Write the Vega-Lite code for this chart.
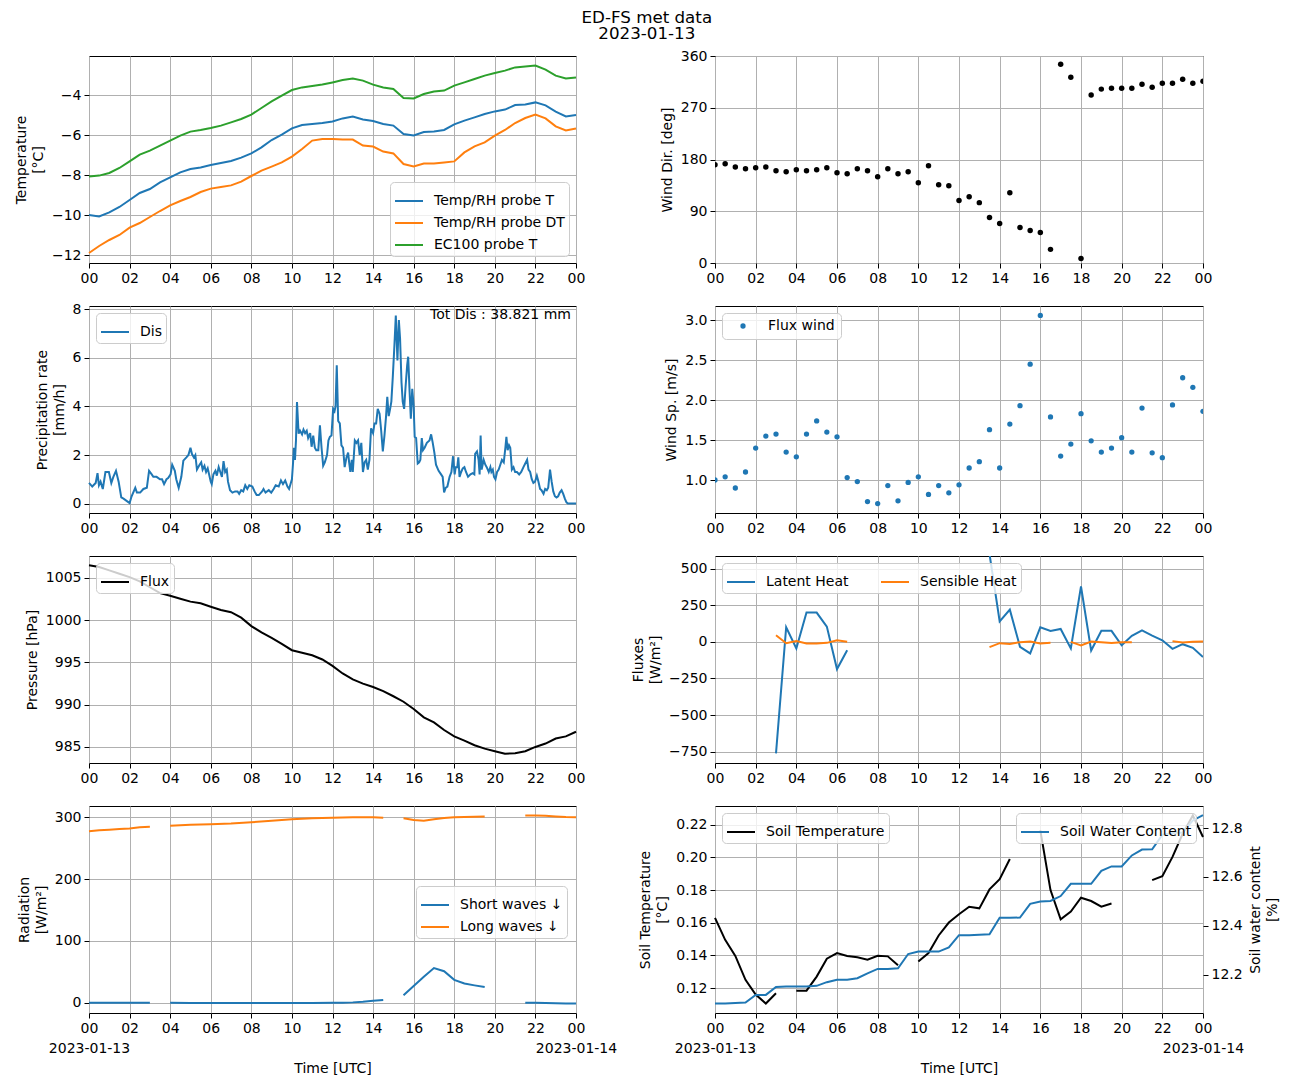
{
  "$schema": "https://vega.github.io/schema/vega-lite/v6.json",
  "title": {"text": ["ED-FS met data", "2023-01-13"], "fontSize": 16.7, "fontWeight": "normal", "font": "DejaVu Sans", "lineHeight": 16, "anchor": "middle", "offset": 6, "color": "black"},
  "padding": {"left": 13, "top": 9, "right": 5, "bottom": 5},
  "background": "white",
  "columns": 2,
  "bounds": "flush",
  "spacing": {"row": 43, "column": 139},
  "resolve": {"scale": {"color": "independent"}, "legend": {"color": "independent"}},
  "datasets": {
    "temp": [
      {"h":0,"t":-10.0,"dt":-11.9,"ec":-8.08},{"h":0.5,"t":-10.07,"dt":-11.55,"ec":-8.03},{"h":1,"t":-9.87,"dt":-11.25,"ec":-7.9},
      {"h":1.5,"t":-9.6,"dt":-11.0,"ec":-7.65},{"h":2,"t":-9.25,"dt":-10.63,"ec":-7.32},{"h":2.5,"t":-8.9,"dt":-10.4,"ec":-6.98},
      {"h":3,"t":-8.7,"dt":-10.1,"ec":-6.78},{"h":3.5,"t":-8.37,"dt":-9.8,"ec":-6.53},{"h":4,"t":-8.12,"dt":-9.52,"ec":-6.28},
      {"h":4.5,"t":-7.87,"dt":-9.3,"ec":-6.03},{"h":5,"t":-7.7,"dt":-9.1,"ec":-5.83},{"h":5.5,"t":-7.62,"dt":-8.85,"ec":-5.75},
      {"h":6,"t":-7.5,"dt":-8.68,"ec":-5.65},{"h":6.5,"t":-7.4,"dt":-8.6,"ec":-5.53},{"h":7,"t":-7.3,"dt":-8.52,"ec":-5.37},
      {"h":7.5,"t":-7.13,"dt":-8.33,"ec":-5.2},{"h":8,"t":-6.92,"dt":-8.05,"ec":-4.98},{"h":8.5,"t":-6.62,"dt":-7.78,"ec":-4.65},
      {"h":9,"t":-6.25,"dt":-7.58,"ec":-4.32},{"h":9.5,"t":-5.98,"dt":-7.37,"ec":-4.03},{"h":10,"t":-5.67,"dt":-7.08,"ec":-3.75},
      {"h":10.5,"t":-5.5,"dt":-6.7,"ec":-3.62},{"h":11,"t":-5.45,"dt":-6.28,"ec":-3.55},{"h":11.5,"t":-5.4,"dt":-6.2,"ec":-3.48},
      {"h":12,"t":-5.32,"dt":-6.2,"ec":-3.37},{"h":12.5,"t":-5.17,"dt":-6.23,"ec":-3.25},{"h":13,"t":-5.08,"dt":-6.23,"ec":-3.17},
      {"h":13.5,"t":-5.22,"dt":-6.53,"ec":-3.28},{"h":14,"t":-5.3,"dt":-6.58,"ec":-3.48},{"h":14.5,"t":-5.45,"dt":-6.83,"ec":-3.62},
      {"h":15,"t":-5.53,"dt":-6.92,"ec":-3.7},{"h":15.5,"t":-5.95,"dt":-7.45,"ec":-4.15},{"h":16,"t":-6.02,"dt":-7.57,"ec":-4.17},
      {"h":16.5,"t":-5.85,"dt":-7.43,"ec":-3.95},{"h":17,"t":-5.82,"dt":-7.42,"ec":-3.83},{"h":17.5,"t":-5.75,"dt":-7.37,"ec":-3.78},
      {"h":18,"t":-5.47,"dt":-7.32,"ec":-3.53},{"h":18.5,"t":-5.28,"dt":-6.87,"ec":-3.37},{"h":19,"t":-5.12,"dt":-6.57,"ec":-3.2},
      {"h":19.5,"t":-4.95,"dt":-6.37,"ec":-3.03},{"h":20,"t":-4.82,"dt":-6.03,"ec":-2.9},{"h":20.5,"t":-4.73,"dt":-5.75,"ec":-2.78},
      {"h":21,"t":-4.5,"dt":-5.4,"ec":-2.62},{"h":21.5,"t":-4.48,"dt":-5.15,"ec":-2.58},{"h":22,"t":-4.37,"dt":-4.98,"ec":-2.53},
      {"h":22.5,"t":-4.52,"dt":-5.17,"ec":-2.73},{"h":23,"t":-4.83,"dt":-5.57,"ec":-3.03},{"h":23.5,"t":-5.07,"dt":-5.77,"ec":-3.17},
      {"h":24,"t":-5.0,"dt":-5.67,"ec":-3.12}
    ],
    "wd": [
      {"h":0,"d":170.8},{"h":0.5,"d":172.5},{"h":1,"d":167},{"h":1.5,"d":164},{"h":2,"d":165.6},{"h":2.5,"d":167},
      {"h":3,"d":160.4},{"h":3.5,"d":158.7},{"h":4,"d":162},{"h":4.5,"d":160.4},{"h":5,"d":162},{"h":5.5,"d":165.6},
      {"h":6,"d":157},{"h":6.5,"d":155.2},{"h":7,"d":164},{"h":7.5,"d":160.4},{"h":8,"d":150},{"h":8.5,"d":164},
      {"h":9,"d":155.2},{"h":9.5,"d":158.7},{"h":10,"d":139.6},{"h":10.5,"d":169},{"h":11,"d":136.2},{"h":11.5,"d":134.4},
      {"h":12,"d":108.5},{"h":12.5,"d":115.4},{"h":13,"d":105},{"h":13.5,"d":79},{"h":14,"d":68.7},{"h":14.5,"d":122.3},
      {"h":15,"d":61.7},{"h":15.5,"d":56.5},{"h":16,"d":53},{"h":16.5,"d":23.7},{"h":17,"d":345.6},{"h":17.5,"d":323},
      {"h":18,"d":8},{"h":18.5,"d":292},{"h":19,"d":302.4},{"h":19.5,"d":304},{"h":20,"d":304},{"h":20.5,"d":304},
      {"h":21,"d":311},{"h":21.5,"d":305.8},{"h":22,"d":312.7},{"h":22.5,"d":312.7},{"h":23,"d":319.7},{"h":23.5,"d":312.7},
      {"h":24,"d":316}
    ],
    "pr": [
      {"h":0,"v":0.85},{"h":0.16,"v":0.7},{"h":0.33,"v":0.85},{"h":0.42,"v":1.25},{"h":0.49,"v":0.75},{"h":0.57,"v":0.9},
      {"h":0.68,"v":0.6},{"h":0.81,"v":1.3},{"h":0.98,"v":1.3},{"h":1.1,"v":0.85},{"h":1.2,"v":1.1},{"h":1.33,"v":1.35},
      {"h":1.46,"v":0.9},{"h":1.59,"v":0.25},{"h":1.7,"v":0.2},{"h":1.87,"v":0.1},{"h":2.0,"v":0.02},{"h":2.1,"v":0.3},
      {"h":2.28,"v":0.65},{"h":2.36,"v":0.45},{"h":2.52,"v":0.45},{"h":2.68,"v":0.6},{"h":2.85,"v":0.65},{"h":2.96,"v":1.35},
      {"h":3.09,"v":1.2},{"h":3.17,"v":1.1},{"h":3.33,"v":1.1},{"h":3.5,"v":1.0},{"h":3.6,"v":1.0},{"h":3.7,"v":0.8},
      {"h":3.82,"v":1.0},{"h":3.9,"v":1.05},{"h":4.02,"v":1.2},{"h":4.1,"v":1.6},{"h":4.23,"v":1.35},{"h":4.3,"v":1.0},
      {"h":4.42,"v":0.65},{"h":4.55,"v":1.1},{"h":4.65,"v":1.77},{"h":4.8,"v":1.9},{"h":4.9,"v":2.0},{"h":5.0,"v":2.3},
      {"h":5.07,"v":2.05},{"h":5.17,"v":1.9},{"h":5.24,"v":2.0},{"h":5.32,"v":1.4},{"h":5.45,"v":1.6},{"h":5.53,"v":1.7},
      {"h":5.6,"v":1.4},{"h":5.69,"v":1.55},{"h":5.77,"v":1.3},{"h":5.85,"v":1.45},{"h":6.0,"v":0.9},{"h":6.05,"v":0.8},
      {"h":6.13,"v":1.2},{"h":6.23,"v":1.35},{"h":6.3,"v":1.15},{"h":6.39,"v":1.5},{"h":6.47,"v":1.3},{"h":6.55,"v":1.1},
      {"h":6.63,"v":1.75},{"h":6.71,"v":1.3},{"h":6.79,"v":1.4},{"h":6.85,"v":0.9},{"h":6.95,"v":0.55},{"h":7.07,"v":0.45},
      {"h":7.2,"v":0.5},{"h":7.32,"v":0.5},{"h":7.4,"v":0.4},{"h":7.5,"v":0.55},{"h":7.6,"v":0.5},{"h":7.7,"v":0.75},
      {"h":7.8,"v":0.6},{"h":7.9,"v":0.75},{"h":8.05,"v":0.7},{"h":8.16,"v":0.5},{"h":8.26,"v":0.35},{"h":8.37,"v":0.35},
      {"h":8.53,"v":0.5},{"h":8.6,"v":0.6},{"h":8.7,"v":0.45},{"h":8.86,"v":0.55},{"h":8.98,"v":0.45},{"h":9.1,"v":0.6},
      {"h":9.2,"v":0.75},{"h":9.35,"v":0.7},{"h":9.46,"v":0.95},{"h":9.56,"v":0.8},{"h":9.67,"v":0.95},{"h":9.78,"v":0.7},
      {"h":9.86,"v":0.6},{"h":10.0,"v":1.0},{"h":10.05,"v":1.6},{"h":10.1,"v":2.3},{"h":10.15,"v":1.8},{"h":10.2,"v":2.6},
      {"h":10.25,"v":4.18},{"h":10.33,"v":2.88},{"h":10.4,"v":3.0},{"h":10.5,"v":2.85},{"h":10.57,"v":3.05},{"h":10.65,"v":2.9},
      {"h":10.73,"v":3.0},{"h":10.8,"v":2.7},{"h":10.9,"v":2.9},{"h":10.97,"v":2.34},{"h":11.05,"v":2.8},{"h":11.13,"v":2.3},
      {"h":11.2,"v":2.2},{"h":11.3,"v":2.2},{"h":11.38,"v":3.22},{"h":11.46,"v":2.3},{"h":11.54,"v":1.56},{"h":11.62,"v":1.7},
      {"h":11.73,"v":2.0},{"h":11.8,"v":2.6},{"h":11.87,"v":2.75},{"h":11.95,"v":2.8},{"h":12.03,"v":3.9},{"h":12.1,"v":3.8},
      {"h":12.15,"v":4.0},{"h":12.21,"v":5.7},{"h":12.28,"v":3.4},{"h":12.36,"v":3.3},{"h":12.44,"v":2.4},{"h":12.52,"v":2.3},
      {"h":12.6,"v":1.5},{"h":12.69,"v":1.9},{"h":12.77,"v":2.1},{"h":12.82,"v":1.7},{"h":12.88,"v":1.3},{"h":12.95,"v":1.8},
      {"h":13.0,"v":1.3},{"h":13.1,"v":2.6},{"h":13.18,"v":2.5},{"h":13.26,"v":2.6},{"h":13.34,"v":2.0},{"h":13.42,"v":2.5},
      {"h":13.5,"v":1.3},{"h":13.58,"v":1.7},{"h":13.66,"v":1.8},{"h":13.74,"v":1.4},{"h":13.82,"v":1.8},{"h":13.9,"v":3.1},
      {"h":14.0,"v":2.9},{"h":14.07,"v":3.3},{"h":14.15,"v":3.3},{"h":14.23,"v":3.9},{"h":14.32,"v":3.7},{"h":14.4,"v":3.0},
      {"h":14.48,"v":2.15},{"h":14.56,"v":2.8},{"h":14.64,"v":3.6},{"h":14.7,"v":4.4},{"h":14.77,"v":3.6},{"h":14.84,"v":3.9},
      {"h":14.9,"v":4.2},{"h":14.97,"v":5.2},{"h":15.05,"v":6.5},{"h":15.12,"v":7.75},{"h":15.2,"v":5.9},{"h":15.27,"v":7.56},
      {"h":15.33,"v":6.8},{"h":15.4,"v":5.0},{"h":15.46,"v":4.2},{"h":15.53,"v":3.9},{"h":15.6,"v":4.8},{"h":15.68,"v":5.7},
      {"h":15.73,"v":6.05},{"h":15.8,"v":4.6},{"h":15.86,"v":3.5},{"h":15.93,"v":4.73},{"h":16.0,"v":4.0},{"h":16.05,"v":2.75},
      {"h":16.12,"v":2.7},{"h":16.2,"v":1.65},{"h":16.27,"v":1.7},{"h":16.33,"v":1.8},{"h":16.4,"v":2.7},{"h":16.46,"v":2.2},
      {"h":16.54,"v":2.3},{"h":16.65,"v":2.5},{"h":16.78,"v":2.6},{"h":16.86,"v":2.85},{"h":16.94,"v":2.5},{"h":17.02,"v":2.1},
      {"h":17.1,"v":1.6},{"h":17.23,"v":1.35},{"h":17.35,"v":1.2},{"h":17.43,"v":1.1},{"h":17.5,"v":0.46},{"h":17.58,"v":0.65},
      {"h":17.66,"v":0.7},{"h":17.77,"v":1.1},{"h":17.86,"v":1.3},{"h":17.94,"v":1.95},{"h":18.02,"v":1.2},{"h":18.07,"v":1.5},
      {"h":18.15,"v":1.5},{"h":18.2,"v":1.9},{"h":18.26,"v":1.1},{"h":18.34,"v":1.3},{"h":18.42,"v":1.45},{"h":18.5,"v":1.5},
      {"h":18.58,"v":1.3},{"h":18.68,"v":1.1},{"h":18.8,"v":1.2},{"h":18.91,"v":1.25},{"h":18.99,"v":1.2},{"h":19.03,"v":2.05},
      {"h":19.12,"v":2.15},{"h":19.2,"v":1.8},{"h":19.25,"v":1.2},{"h":19.3,"v":2.8},{"h":19.35,"v":1.4},{"h":19.45,"v":1.8},
      {"h":19.53,"v":1.6},{"h":19.6,"v":1.5},{"h":19.7,"v":1.3},{"h":19.78,"v":1.5},{"h":19.83,"v":1.3},{"h":19.9,"v":1.4},
      {"h":19.96,"v":1.1},{"h":20.03,"v":1.0},{"h":20.11,"v":1.3},{"h":20.19,"v":1.4},{"h":20.27,"v":1.6},{"h":20.35,"v":1.8},
      {"h":20.44,"v":1.7},{"h":20.52,"v":2.3},{"h":20.57,"v":2.75},{"h":20.63,"v":2.2},{"h":20.7,"v":2.4},{"h":20.76,"v":2.3},
      {"h":20.84,"v":1.4},{"h":20.92,"v":1.5},{"h":21.0,"v":1.3},{"h":21.09,"v":1.3},{"h":21.2,"v":1.2},{"h":21.3,"v":1.3},
      {"h":21.41,"v":1.5},{"h":21.53,"v":1.7},{"h":21.59,"v":1.8},{"h":21.66,"v":1.4},{"h":21.74,"v":1.3},{"h":21.82,"v":1.0},
      {"h":21.9,"v":0.85},{"h":21.98,"v":0.9},{"h":22.07,"v":1.15},{"h":22.15,"v":0.9},{"h":22.23,"v":0.6},{"h":22.3,"v":0.55},
      {"h":22.4,"v":0.4},{"h":22.48,"v":0.6},{"h":22.56,"v":0.55},{"h":22.63,"v":0.65},{"h":22.72,"v":1.4},{"h":22.8,"v":0.9},
      {"h":22.88,"v":0.5},{"h":22.96,"v":0.3},{"h":23.04,"v":0.25},{"h":23.12,"v":0.3},{"h":23.2,"v":0.45},{"h":23.29,"v":0.55},
      {"h":23.37,"v":0.4},{"h":23.45,"v":0.2},{"h":23.53,"v":0.05},{"h":23.6,"v":0.0},{"h":24,"v":0.0}
    ],
    "ws": [
      {"h":0,"s":1.0},{"h":0.5,"s":1.04},{"h":1,"s":0.9},{"h":1.5,"s":1.1},{"h":2,"s":1.4},{"h":2.5,"s":1.55},
      {"h":3,"s":1.575},{"h":3.5,"s":1.35},{"h":4,"s":1.29},{"h":4.5,"s":1.575},{"h":5,"s":1.74},{"h":5.5,"s":1.6},
      {"h":6,"s":1.54},{"h":6.5,"s":1.03},{"h":7,"s":0.98},{"h":7.5,"s":0.73},{"h":8,"s":0.705},{"h":8.5,"s":0.93},
      {"h":9,"s":0.74},{"h":9.5,"s":0.97},{"h":10,"s":1.04},{"h":10.5,"s":0.82},{"h":11,"s":0.93},{"h":11.5,"s":0.84},
      {"h":12,"s":0.94},{"h":12.5,"s":1.15},{"h":13,"s":1.23},{"h":13.5,"s":1.63},{"h":14,"s":1.15},{"h":14.5,"s":1.7},
      {"h":15,"s":1.93},{"h":15.5,"s":2.45},{"h":16,"s":3.06},{"h":16.5,"s":1.79},{"h":17,"s":1.3},{"h":17.5,"s":1.45},
      {"h":18,"s":1.83},{"h":18.5,"s":1.49},{"h":19,"s":1.35},{"h":19.5,"s":1.4},{"h":20,"s":1.53},{"h":20.5,"s":1.35},
      {"h":21,"s":1.9},{"h":21.5,"s":1.34},{"h":22,"s":1.28},{"h":22.5,"s":1.94},{"h":23,"s":2.28},{"h":23.5,"s":2.16},
      {"h":24,"s":1.86}
    ],
    "p": [
      {"h":0,"p":1006.5},{"h":0.5,"p":1006.3},{"h":1,"p":1005.9},{"h":1.5,"p":1005.5},{"h":2,"p":1005.1},{"h":2.5,"p":1004.6},
      {"h":3,"p":1003.9},{"h":3.5,"p":1003.2},{"h":4,"p":1002.9},{"h":4.5,"p":1002.55},{"h":5,"p":1002.2},{"h":5.5,"p":1002.0},
      {"h":6,"p":1001.6},{"h":6.5,"p":1001.2},{"h":7,"p":1000.95},{"h":7.5,"p":1000.3},{"h":8,"p":999.3},{"h":8.5,"p":998.55},
      {"h":9,"p":997.9},{"h":9.5,"p":997.2},{"h":10,"p":996.45},{"h":10.5,"p":996.15},{"h":11,"p":995.85},{"h":11.5,"p":995.35},
      {"h":12,"p":994.6},{"h":12.5,"p":993.7},{"h":13,"p":993.0},{"h":13.5,"p":992.5},{"h":14,"p":992.1},{"h":14.5,"p":991.6},
      {"h":15,"p":991.0},{"h":15.5,"p":990.35},{"h":16,"p":989.5},{"h":16.5,"p":988.5},{"h":17,"p":987.9},{"h":17.5,"p":987.0},
      {"h":18,"p":986.25},{"h":18.5,"p":985.75},{"h":19,"p":985.2},{"h":19.5,"p":984.8},{"h":20,"p":984.5},{"h":20.5,"p":984.2},
      {"h":21,"p":984.25},{"h":21.5,"p":984.5},{"h":22,"p":985.0},{"h":22.5,"p":985.4},{"h":23,"p":986.0},{"h":23.5,"p":986.25},
      {"h":24,"p":986.8}
    ],
    "lh": [
      {"h":3,"v":-761,"g":1},{"h":3.5,"v":100,"g":1},{"h":4,"v":-45,"g":1},{"h":4.5,"v":200,"g":1},{"h":5,"v":200,"g":1},
      {"h":5.5,"v":104,"g":1},{"h":6,"v":-186,"g":1},{"h":6.5,"v":-57,"g":1},
      {"h":13.5,"v":600,"g":2},{"h":14,"v":140,"g":2},{"h":14.5,"v":220,"g":2},{"h":15,"v":-34,"g":2},{"h":15.5,"v":-79,"g":2},
      {"h":16,"v":100,"g":2},{"h":16.5,"v":75,"g":2},{"h":17,"v":88,"g":2},{"h":17.5,"v":-45,"g":2},{"h":18,"v":378,"g":2},
      {"h":18.5,"v":-59,"g":2},{"h":19,"v":75,"g":2},{"h":19.5,"v":75,"g":2},{"h":20,"v":-23,"g":2},{"h":20.5,"v":41,"g":2},
      {"h":21,"v":79,"g":2},{"h":21.5,"v":43,"g":2},{"h":22,"v":11,"g":2},{"h":22.5,"v":-48,"g":2},{"h":23,"v":-16,"g":2},
      {"h":23.5,"v":-41,"g":2},{"h":24,"v":-104,"g":2}
    ],
    "sh": [
      {"h":3,"v":45,"g":1},{"h":3.5,"v":-9,"g":1},{"h":4,"v":5,"g":1},{"h":4.5,"v":-11,"g":1},{"h":5,"v":-11,"g":1},
      {"h":5.5,"v":-7,"g":1},{"h":6,"v":11,"g":1},{"h":6.5,"v":0,"g":1},
      {"h":13.5,"v":-36,"g":2},{"h":14,"v":-9,"g":2},{"h":14.5,"v":-14,"g":2},{"h":15,"v":-2,"g":2},{"h":15.5,"v":2,"g":2},
      {"h":16,"v":-11,"g":2},{"h":16.5,"v":-7,"g":2},
      {"h":17.5,"v":0,"g":3},{"h":18,"v":-25,"g":3},{"h":18.5,"v":2,"g":3},{"h":19,"v":-2,"g":3},{"h":19.5,"v":-7,"g":3},
      {"h":20,"v":-2,"g":3},{"h":20.5,"v":-2,"g":3},
      {"h":22.5,"v":5,"g":4},{"h":23,"v":-5,"g":4},{"h":23.5,"v":0,"g":4},{"h":24,"v":2,"g":4}
    ],
    "rad": [
      {"h":0,"sw":-0.3,"lw":277.4,"g":1},{"h":0.5,"sw":-0.3,"lw":279,"g":1},{"h":1,"sw":-0.3,"lw":280,"g":1},
      {"h":1.5,"sw":-0.3,"lw":281,"g":1},{"h":2,"sw":-0.3,"lw":282,"g":1},{"h":2.5,"sw":-0.3,"lw":284,"g":1},
      {"h":3,"sw":-0.3,"lw":285,"g":1},
      {"h":4,"sw":-0.3,"lw":286.5,"g":2},{"h":5,"sw":-0.4,"lw":288,"g":2},{"h":6,"sw":-0.4,"lw":289,"g":2},
      {"h":7,"sw":-0.4,"lw":290,"g":2},{"h":8,"sw":-0.4,"lw":292,"g":2},{"h":9,"sw":-0.5,"lw":294.6,"g":2},
      {"h":10,"sw":-0.5,"lw":296.8,"g":2},{"h":11,"sw":-0.4,"lw":298.4,"g":2},{"h":12,"sw":-0.3,"lw":299.5,"g":2},
      {"h":12.5,"sw":0,"lw":299.8,"g":2},{"h":13,"sw":0.5,"lw":300,"g":2},{"h":13.5,"sw":1.5,"lw":300.2,"g":2},
      {"h":14,"sw":3,"lw":300,"g":2},{"h":14.5,"sw":4.5,"lw":299.5,"g":2},
      {"h":15.5,"sw":12,"lw":298.4,"g":3},{"h":16,"sw":27,"lw":295.7,"g":3},{"h":16.5,"sw":42,"lw":294.6,"g":3},
      {"h":17,"sw":56,"lw":296.8,"g":3},{"h":17.5,"sw":51,"lw":299,"g":3},{"h":18,"sw":37,"lw":300,"g":3},
      {"h":18.5,"sw":31,"lw":300.5,"g":3},{"h":19,"sw":28,"lw":301,"g":3},{"h":19.5,"sw":25.3,"lw":301.6,"g":3},
      {"h":21.5,"sw":0,"lw":303.2,"g":4},{"h":22,"sw":-0.3,"lw":303.2,"g":4},{"h":22.5,"sw":-0.6,"lw":302.7,"g":4},
      {"h":23,"sw":-1,"lw":301.6,"g":4},{"h":23.5,"sw":-1.3,"lw":300.5,"g":4},{"h":24,"sw":-1.5,"lw":300,"g":4}
    ],
    "st": [
      {"h":0,"v":0.163,"g":1},{"h":0.5,"v":0.1495,"g":1},{"h":1,"v":0.1397,"g":1},{"h":1.5,"v":0.125,"g":1},
      {"h":2,"v":0.116,"g":1},{"h":2.5,"v":0.1105,"g":1},{"h":3,"v":0.1168,"g":1},
      {"h":4,"v":0.1184,"g":2},{"h":4.5,"v":0.1184,"g":2},{"h":5,"v":0.127,"g":2},{"h":5.5,"v":0.138,"g":2},
      {"h":6,"v":0.1414,"g":2},{"h":6.5,"v":0.1396,"g":2},{"h":7,"v":0.1388,"g":2},{"h":7.5,"v":0.1374,"g":2},
      {"h":8,"v":0.1398,"g":2},{"h":8.5,"v":0.1394,"g":2},{"h":9,"v":0.1339,"g":2},
      {"h":10,"v":0.1363,"g":3},{"h":10.5,"v":0.1414,"g":3},{"h":11,"v":0.1522,"g":3},{"h":11.5,"v":0.1601,"g":3},
      {"h":12,"v":0.1652,"g":3},{"h":12.5,"v":0.1698,"g":3},{"h":13,"v":0.1688,"g":3},{"h":13.5,"v":0.1804,"g":3},
      {"h":14,"v":0.1867,"g":3},{"h":14.5,"v":0.199,"g":3},
      {"h":16,"v":0.2166,"g":4},{"h":16.5,"v":0.18,"g":4},{"h":17,"v":0.1621,"g":4},{"h":17.5,"v":0.1668,"g":4},
      {"h":18,"v":0.1753,"g":4},{"h":18.5,"v":0.1733,"g":4},{"h":19,"v":0.1698,"g":4},{"h":19.5,"v":0.1718,"g":4},
      {"h":21.5,"v":0.1861,"g":5},{"h":22,"v":0.1885,"g":5},{"h":22.5,"v":0.2003,"g":5},{"h":23,"v":0.2145,"g":5},
      {"h":23.5,"v":0.2257,"g":5},{"h":24,"v":0.2125,"g":5}
    ],
    "swc": [
      {"h":0,"w":12.083},{"h":0.5,"w":12.083},{"h":1,"w":12.085},{"h":1.5,"w":12.087},{"h":2,"w":12.118},{"h":2.5,"w":12.118},
      {"h":3,"w":12.15},{"h":3.5,"w":12.152},{"h":4,"w":12.152},{"h":4.5,"w":12.152},{"h":5,"w":12.155},{"h":5.5,"w":12.17},
      {"h":6,"w":12.18},{"h":6.5,"w":12.18},{"h":7,"w":12.186},{"h":7.5,"w":12.206},{"h":8,"w":12.224},{"h":8.5,"w":12.224},
      {"h":9,"w":12.227},{"h":9.5,"w":12.285},{"h":10,"w":12.295},{"h":10.5,"w":12.295},{"h":11,"w":12.295},{"h":11.5,"w":12.312},
      {"h":12,"w":12.362},{"h":12.5,"w":12.362},{"h":13,"w":12.364},{"h":13.5,"w":12.366},{"h":14,"w":12.433},{"h":14.5,"w":12.433},
      {"h":15,"w":12.434},{"h":15.5,"w":12.49},{"h":16,"w":12.5},{"h":16.5,"w":12.502},{"h":17,"w":12.522},{"h":17.5,"w":12.572},
      {"h":18,"w":12.572},{"h":18.5,"w":12.572},{"h":19,"w":12.625},{"h":19.5,"w":12.643},{"h":20,"w":12.643},{"h":20.5,"w":12.688},
      {"h":21,"w":12.712},{"h":21.5,"w":12.713},{"h":22,"w":12.772},{"h":22.5,"w":12.78},{"h":23,"w":12.782},{"h":23.5,"w":12.831},
      {"h":24,"w":12.853}
    ]
  },
  "concat": [
    {
      "width": 487, "height": 207,
      "data": {"name": "temp"},
      "encoding": {
        "x": {"field": "h", "type": "quantitative", "scale": {"domain": [0, 24], "nice": false, "zero": false},
              "axis": {"values": [0,2,4,6,8,10,12,14,16,18,20,22,24], "labelExpr": "datum.value == 24 ? '00' : format(datum.value, '02d')", "title": null}}
      },
      "layer": [
        {"mark": {"type": "line", "strokeWidth": 2},
         "encoding": {
           "y": {"field": "t", "type": "quantitative", "title": ["Temperature", "[°C]"], "scale": {"domain": [-12.4, -2.05], "nice": false, "zero": false}, "axis": {"values": [-12,-10,-8,-6,-4]}},
           "color": {"datum": "Temp/RH probe T", "scale": {"domain": ["Temp/RH probe T", "Temp/RH probe DT", "EC100 probe T"], "range": ["#1f77b4", "#ff7f0e", "#2ca02c"]}, "legend": {"title": null, "orient": "bottom-right"}}
         }},
        {"mark": {"type": "line", "strokeWidth": 2},
         "encoding": {"y": {"field": "dt", "type": "quantitative", "title": ["Temperature", "[°C]"]}, "color": {"datum": "Temp/RH probe DT"}}},
        {"mark": {"type": "line", "strokeWidth": 2},
         "encoding": {"y": {"field": "ec", "type": "quantitative", "title": ["Temperature", "[°C]"]}, "color": {"datum": "EC100 probe T"}}}
      ]
    },
    {
      "width": 488, "height": 207,
      "data": {"name": "wd"},
      "mark": {"type": "point", "filled": true, "size": 30, "color": "black", "opacity": 1, "clip": true},
      "encoding": {
        "x": {"field": "h", "type": "quantitative", "scale": {"domain": [0, 24], "nice": false, "zero": false},
              "axis": {"values": [0,2,4,6,8,10,12,14,16,18,20,22,24], "labelExpr": "datum.value == 24 ? '00' : format(datum.value, '02d')", "title": null}},
        "y": {"field": "d", "type": "quantitative", "title": "Wind Dir. [deg]", "scale": {"domain": [0, 360], "nice": false}, "axis": {"values": [0, 90, 180, 270, 360]}}
      }
    },
    {
      "width": 487, "height": 207,
      "title": {"text": "Tot Dis : 38.821 mm", "anchor": "end", "frame": "group", "orient": "top", "offset": 0, "baseline": "top", "dx": -5, "dy": 20, "fontSize": 14, "fontWeight": "normal", "font": "DejaVu Sans", "color": "black"},
      "data": {"name": "pr"},
      "mark": {"type": "line", "strokeWidth": 2},
      "encoding": {
        "x": {"field": "h", "type": "quantitative", "scale": {"domain": [0, 24], "nice": false, "zero": false},
              "axis": {"values": [0,2,4,6,8,10,12,14,16,18,20,22,24], "labelExpr": "datum.value == 24 ? '00' : format(datum.value, '02d')", "title": null}},
        "y": {"field": "v", "type": "quantitative", "title": ["Precipitation rate", "[mm/h]"], "scale": {"domain": [-0.39, 8.14], "nice": false, "zero": false}, "axis": {"values": [0, 2, 4, 6, 8]}},
        "color": {"datum": "Dis", "scale": {"range": ["#1f77b4"]}, "legend": {"title": null, "orient": "top-left"}}
      }
    },
    {
      "width": 488, "height": 207,
      "data": {"name": "ws"},
      "mark": {"type": "point", "filled": true, "size": 28, "opacity": 1, "clip": true},
      "encoding": {
        "x": {"field": "h", "type": "quantitative", "scale": {"domain": [0, 24], "nice": false, "zero": false},
              "axis": {"values": [0,2,4,6,8,10,12,14,16,18,20,22,24], "labelExpr": "datum.value == 24 ? '00' : format(datum.value, '02d')", "title": null}},
        "y": {"field": "s", "type": "quantitative", "title": "Wind Sp. [m/s]", "scale": {"domain": [0.587, 3.178], "nice": false, "zero": false}, "axis": {"values": [1.0, 1.5, 2.0, 2.5, 3.0], "format": ".1f"}},
        "color": {"datum": "Flux wind", "scale": {"range": ["#1f77b4"]}, "legend": {"title": null, "orient": "top-left", "symbolSize": 28, "symbolOffset": 8, "labelOffset": 18, "padding": 6}}
      }
    },
    {
      "width": 487, "height": 207,
      "data": {"name": "p"},
      "mark": {"type": "line", "strokeWidth": 2},
      "encoding": {
        "x": {"field": "h", "type": "quantitative", "scale": {"domain": [0, 24], "nice": false, "zero": false},
              "axis": {"values": [0,2,4,6,8,10,12,14,16,18,20,22,24], "labelExpr": "datum.value == 24 ? '00' : format(datum.value, '02d')", "title": null}},
        "y": {"field": "p", "type": "quantitative", "title": "Pressure [hPa]", "scale": {"domain": [983.1, 1007.6], "nice": false, "zero": false}, "axis": {"values": [985, 990, 995, 1000, 1005], "format": "d"}},
        "color": {"datum": "Flux", "scale": {"range": ["black"]}, "legend": {"title": null, "orient": "top-left"}}
      }
    },
    {
      "width": 488, "height": 207,
      "encoding": {
        "x": {"field": "h", "type": "quantitative", "scale": {"domain": [0, 24], "nice": false, "zero": false},
              "axis": {"values": [0,2,4,6,8,10,12,14,16,18,20,22,24], "labelExpr": "datum.value == 24 ? '00' : format(datum.value, '02d')", "title": null}}
      },
      "layer": [
        {"data": {"name": "lh"},
         "mark": {"type": "line", "strokeWidth": 2, "clip": true},
         "encoding": {
           "y": {"field": "v", "type": "quantitative", "title": ["Fluxes", "[W/m²]"], "scale": {"domain": [-827, 586], "nice": false, "zero": false}, "axis": {"values": [-750, -500, -250, 0, 250, 500]}},
           "detail": {"field": "g"},
           "color": {"datum": "Latent Heat", "scale": {"domain": ["Latent Heat", "Sensible Heat"], "range": ["#1f77b4", "#ff7f0e"]}, "legend": {"title": null, "orient": "top-left", "direction": "horizontal", "columns": 2, "columnPadding": 28}}
         }},
        {"data": {"name": "sh"},
         "mark": {"type": "line", "strokeWidth": 2, "clip": true},
         "encoding": {
           "y": {"field": "v", "type": "quantitative", "title": ["Fluxes", "[W/m²]"]},
           "detail": {"field": "g"},
           "color": {"datum": "Sensible Heat"}
         }}
      ]
    },
    {
      "width": 487, "height": 207,
      "data": {"name": "rad"},
      "encoding": {
        "x": {"field": "h", "type": "quantitative", "scale": {"domain": [0, 24], "nice": false, "zero": false},
              "axis": {"values": [0,2,4,6,8,10,12,14,16,18,20,22,24], "labelExpr": "datum.value == 0 ? ['00', '2023-01-13'] : datum.value == 24 ? ['00', '2023-01-14'] : format(datum.value, '02d')", "title": "Time [UTC]", "labelLineHeight": 20}},
        "detail": {"field": "g"}
      },
      "layer": [
        {"mark": {"type": "line", "strokeWidth": 2},
         "encoding": {
           "y": {"field": "sw", "type": "quantitative", "title": ["Radiation", "[W/m²]"], "scale": {"domain": [-16.7, 318.4], "nice": false, "zero": false}, "axis": {"values": [0, 50, 100, 150, 200, 250, 300]}},
           "color": {"datum": "Short waves ↓", "scale": {"domain": ["Short waves ↓", "Long waves ↓"], "range": ["#1f77b4", "#ff7f0e"]}, "legend": {"title": null, "orient": "none", "legendX": 327, "legendY": 80}}
         }},
        {"mark": {"type": "line", "strokeWidth": 2},
         "encoding": {
           "y": {"field": "lw", "type": "quantitative", "title": ["Radiation", "[W/m²]"]},
           "color": {"datum": "Long waves ↓"}
         }}
      ]
    },
    {
      "width": 488, "height": 207,
      "encoding": {
        "x": {"field": "h", "type": "quantitative", "scale": {"domain": [0, 24], "nice": false, "zero": false},
              "axis": {"values": [0,2,4,6,8,10,12,14,16,18,20,22,24], "labelExpr": "datum.value == 0 ? ['00', '2023-01-13'] : datum.value == 24 ? ['00', '2023-01-14'] : format(datum.value, '02d')", "title": "Time [UTC]", "labelLineHeight": 20}}
      },
      "layer": [
        {"data": {"name": "st"},
         "mark": {"type": "line", "strokeWidth": 2},
         "encoding": {
           "y": {"field": "v", "type": "quantitative", "title": ["Soil Temperature", "[°C]"], "scale": {"domain": [0.1047, 0.2315], "nice": false, "zero": false}, "axis": {"values": [0.12, 0.14, 0.16, 0.18, 0.2, 0.22], "format": ".2f"}},
           "detail": {"field": "g"},
           "color": {"datum": "Soil Temperature", "scale": {"range": ["black"]}, "legend": {"title": null, "orient": "top-left"}}
         }},
        {"data": {"name": "swc"},
         "mark": {"type": "line", "strokeWidth": 2},
         "encoding": {
           "y": {"field": "w", "type": "quantitative", "title": ["Soil water content", "[%]"], "scale": {"domain": [12.044, 12.89], "nice": false, "zero": false}, "axis": {"orient": "right", "grid": false, "values": [12.2, 12.4, 12.6, 12.8], "format": ".1f", "titleAngle": 270, "titleBaseline": "top", "titlePadding": -11}},
           "color": {"datum": "Soil Water Content", "scale": {"range": ["#1f77b4"]}, "legend": {"title": null, "orient": "top-right"}}
         }}
      ],
      "resolve": {"scale": {"y": "independent", "color": "independent"}}
    }
  ],
  "config": {
    "font": "DejaVu Sans",
    "view": {"stroke": "black", "strokeWidth": 1},
    "axis": {"domain": false, "grid": true, "gridColor": "#b0b0b0", "gridWidth": 1, "tickColor": "black", "tickSize": 5, "tickWidth": 1,
             "labelFontSize": 14, "labelColor": "black", "labelPadding": 3, "labelFlush": false, "labelOverlap": false,
             "titleFontSize": 14, "titleFontWeight": "normal", "titleColor": "black", "titlePadding": 6, "titleLineHeight": 17,
             "labelFont": "DejaVu Sans", "titleFont": "DejaVu Sans"},
    "legend": {"offset": 7, "padding": 4, "fillColor": "rgba(255,255,255,0.8)", "strokeColor": "#cccccc", "cornerRadius": 4,
               "labelFontSize": 14, "labelFont": "DejaVu Sans", "labelColor": "black", "symbolSize": 784, "symbolStrokeWidth": 2,
               "rowPadding": -1.4, "labelOffset": 10, "labelLimit": 300}
  }
}
